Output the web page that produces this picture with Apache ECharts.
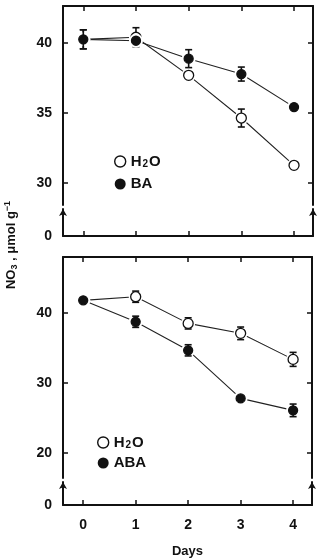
<!DOCTYPE html>
<html>
<head>
<meta charset="utf-8">
<script src="https://cdn.jsdelivr.net/npm/echarts@6/dist/echarts.min.js"></script>
<style>
  html, body { margin: 0; padding: 0; background: #fff; }
  #main { width: 318px; height: 559px; }
</style>
</head>
<body>
<div id="main"></div>
<script>
// 数据
var days = [0, 1, 2, 3, 4];
var dayLabels = ['0', '1', '2', '3', '4'];

var topH2O = [40.24, 40.39, 37.67, 34.62, 31.24];
var topH2OErr = [0.68, 0.68, 0, 0.64, 0];
var topBA = [40.24, 40.14, 38.86, 37.76, 35.40];
var topBAErr = [0.68, 0, 0.64, 0.5, 0];

var botH2O = [41.77, 42.29, 38.48, 37.06, 33.34];
var botH2OErr = [0, 0.8, 0.8, 0.9, 1.0];
var botABA = [41.77, 38.71, 34.63, 27.77, 26.06];
var botABAErr = [0, 0.8, 0.8, 0, 0.9];

var topTicks = [30, 35, 40];
var botTicks = [20, 30, 40];
var zeroTick = [0];

var FONT = 'Liberation Sans, Arial, Helvetica, sans-serif';
var INK = '#111';

function pts(ys, errs) {
    return days.map(function (d, i) { return [d, ys[i], errs ? errs[i] : 0]; });
}

function markRender(filled) {
    return function (params, api) {
        var x = api.value(0), y = api.value(1), e = api.value(2);
        var p = api.coord([x, y]);
        var kids = [{ type: 'circle', shape: { cx: p[0], cy: p[1], r: 7 }, style: { fill: '#fff' } }];
        if (e > 0) {
            var t = api.coord([x, y + e]), b = api.coord([x, y - e]);
            var st = { stroke: INK, lineWidth: 1.6 };
            kids.push({ type: 'line', shape: { x1: p[0], y1: t[1], x2: p[0], y2: b[1] }, style: st });
            kids.push({ type: 'line', shape: { x1: p[0] - 3.5, y1: t[1], x2: p[0] + 3.5, y2: t[1] }, style: st });
            kids.push({ type: 'line', shape: { x1: p[0] - 3.5, y1: b[1], x2: p[0] + 3.5, y2: b[1] }, style: st });
        }
        kids.push({
            type: 'circle',
            shape: { cx: p[0], cy: p[1], r: filled ? 4.5 : 5 },
            style: { fill: filled ? INK : '#fff', stroke: INK, lineWidth: 1.3 }
        });
        return { type: 'group', children: kids };
    };
}

function lineSeries(ys, idx) {
    return {
        type: 'line', xAxisIndex: idx, yAxisIndex: idx * 2, data: pts(ys),
        showSymbol: false, silent: true, z: 1,
        lineStyle: { color: '#222', width: 1.1 }
    };
}

function markSeries(name, ys, errs, idx, filled) {
    return {
        type: 'custom', name: name, xAxisIndex: idx, yAxisIndex: idx * 2,
        data: pts(ys, errs), renderItem: markRender(filled), z: filled ? 4 : 3,
        itemStyle: { color: filled ? INK : '#fff' }
    };
}

var axisLine = { show: true, onZero: false, lineStyle: { color: INK, width: 2 } };
var breakLine = {
    show: true, onZero: false, symbol: ['none', 'arrow'], symbolSize: [6, 7],
    lineStyle: { color: INK, width: 2 }
};
var labelStyle = { color: INK, fontFamily: FONT, fontWeight: 'bold', fontSize: 14 };

function xAx(grid, pos, showLabel) {
    return {
        type: 'value', gridIndex: grid, position: pos, min: -0.385, max: 4.36,
        axisLine: axisLine, splitLine: { show: false },
        axisTick: { inside: true, length: 5, customValues: days, lineStyle: { color: INK, width: 1.5 } },
        axisLabel: showLabel ? Object.assign({
            margin: 13, customValues: days,
            formatter: function (v) { return dayLabels[days.indexOf(v)]; }
        }, labelStyle) : { show: false }
    };
}

function yAx(grid, pos, min, max, ticks, showLabel) {
    return {
        type: 'value', gridIndex: grid, position: pos, min: min, max: max,
        axisLine: axisLine, splitLine: { show: false },
        axisTick: { inside: true, length: 5, customValues: ticks, lineStyle: { color: INK, width: 1.5 } },
        axisLabel: showLabel ? Object.assign({ margin: 11, customValues: ticks }, labelStyle) : { show: false }
    };
}

function yBreak(grid, pos, max, showLabel) {
    return {
        type: 'value', gridIndex: grid, position: pos, min: 0, max: max,
        axisLine: breakLine, splitLine: { show: false }, axisTick: { show: false },
        axisLabel: showLabel ? Object.assign({ margin: 11, customValues: zeroTick }, labelStyle) : { show: false }
    };
}

var subRich = {
    b: { fontFamily: FONT, fontWeight: 'bold', fontSize: 15, color: INK, lineHeight: 16 },
    s: { fontFamily: FONT, fontWeight: 'bold', fontSize: 10, color: INK, lineHeight: 10, verticalAlign: 'bottom', padding: [0, 1, 0, 1] }
};
function legendText(name) {
    if (name === 'tH' || name === 'bH') return '{b|H}{s|2}{b|O}';
    return '{b|' + (name === 'tB' ? 'BA' : 'ABA') + '}';
}
function legendData(h, f) {
    return [
        { name: h, icon: 'circle', itemStyle: { color: '#fff', borderColor: INK, borderWidth: 1.4 } },
        { name: f, icon: 'circle', itemStyle: { color: INK, borderColor: INK, borderWidth: 0 } }
    ];
}

var myChart = echarts.init(document.getElementById('main'), null, { renderer: 'canvas' });
myChart.setOption({
    animation: false,
    backgroundColor: '#fff',
    grid: [
        { left: 63, top: 6, width: 250, height: 199 },
        { left: 63, top: 209, width: 250, height: 27 },
        { left: 63, top: 257, width: 249, height: 221 },
        { left: 63, top: 482, width: 249, height: 24 }
    ],
    xAxis: [
        xAx(0, 'top', false),
        xAx(1, 'bottom', false),
        xAx(2, 'top', false),
        Object.assign(xAx(3, 'bottom', true), {
            name: 'Days', nameLocation: 'middle', nameGap: 40,
            nameTextStyle: { color: INK, fontFamily: FONT, fontWeight: 'bold', fontSize: 13 }
        })
    ],
    yAxis: [
        yAx(0, 'left', 28.41, 42.62, topTicks, true),
        yAx(0, 'right', 28.41, 42.62, topTicks, false),
        yBreak(1, 'left', 1.9, true),
        yBreak(1, 'right', 1.9, false),
        yAx(2, 'left', 16.4, 47.96, botTicks, true),
        yAx(2, 'right', 16.4, 47.96, botTicks, false),
        yBreak(3, 'left', 3.4, true),
        yBreak(3, 'right', 3.4, false)
    ],
    legend: [
        {
            left: 109, top: 149, orient: 'vertical', itemWidth: 11, itemHeight: 11, itemGap: 7,
            selectedMode: false, data: legendData('tH', 'tB'),
            formatter: legendText, textStyle: { rich: subRich }
        },
        {
            left: 92, top: 430, orient: 'vertical', itemWidth: 11, itemHeight: 11, itemGap: 5,
            selectedMode: false, data: legendData('bH', 'bA'),
            formatter: legendText, textStyle: { rich: subRich }
        }
    ],
    graphic: [{
        type: 'text', x: 3, y: 245, rotation: Math.PI / 2,
        style: {
            text: '{n|NO}{s|3}{n| , μmol g}{p|−1}',
            align: 'center', verticalAlign: 'top',
            rich: {
                n: { fontFamily: FONT, fontWeight: 'bold', fontSize: 13, fill: INK, lineHeight: 16 },
                s: { fontFamily: FONT, fontWeight: 'bold', fontSize: 9, fill: INK, lineHeight: 9, verticalAlign: 'bottom' },
                p: { fontFamily: FONT, fontWeight: 'bold', fontSize: 9, fill: INK, lineHeight: 9, verticalAlign: 'top' }
            }
        }
    }],
    series: [
        lineSeries(topH2O, 0), lineSeries(topBA, 0),
        lineSeries(botH2O, 2), lineSeries(botABA, 2),
        markSeries('tH', topH2O, topH2OErr, 0, false),
        markSeries('tB', topBA, topBAErr, 0, true),
        markSeries('bH', botH2O, botH2OErr, 2, false),
        markSeries('bA', botABA, botABAErr, 2, true)
    ]
});
</script>
</body>
</html>
